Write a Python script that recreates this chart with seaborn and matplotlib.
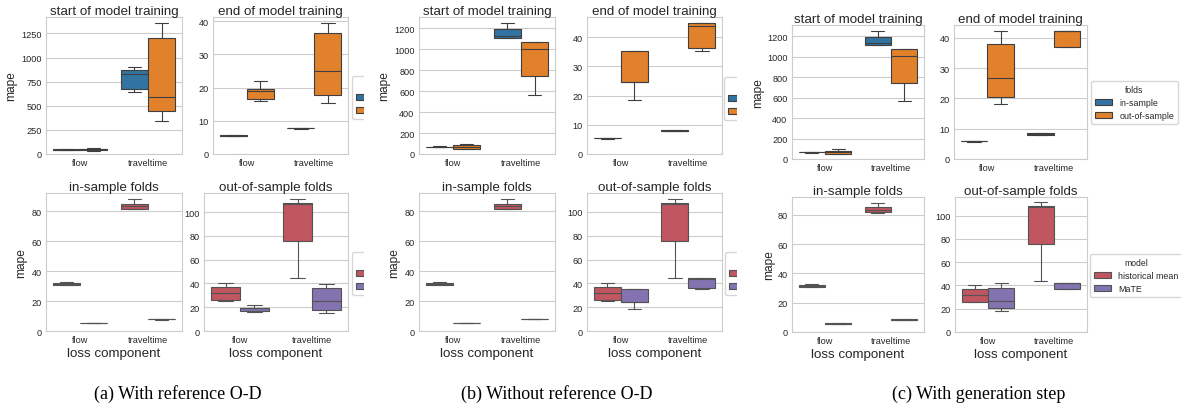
import matplotlib
matplotlib.use("Agg")
import matplotlib.pyplot as plt
from matplotlib.transforms import Bbox, TransformedBbox
import pandas as pd
import seaborn as sns

# ---------------------------------------------------------------------------
# MAPE per fold (five folds per loss component)
# ---------------------------------------------------------------------------
components = ["flow", "traveltime"]
fold_levels = ["in-sample", "out-of-sample"]
model_levels = ["historical mean", "MaTE"]

# historical-mean baseline (identical for every setting)
hist_in_flow = [30.6, 30.9, 31.4, 32.3, 32.8]
hist_in_travel = [81.3, 81.8, 83.6, 85.2, 88.1]
hist_out_flow = [25.5, 25.9, 32.0, 36.9, 40.3]
hist_out_travel = [44.2, 75.8, 107.0, 107.9, 111.3]

# (a) with reference O-D
a_start_in_flow = [44, 45, 46, 47, 48]
a_start_in_travel = [647, 675, 834, 866, 900]
a_start_out_flow = [33, 42, 50, 57, 66]
a_start_out_travel = [346, 450, 589, 1205, 1354]
a_end_in_flow = [5.4, 5.5, 5.5, 5.6, 5.6]
a_end_in_travel = [7.6, 7.7, 7.7, 7.8, 7.8]
a_end_out_flow = [15.8, 16.6, 19.0, 19.6, 22.0]
a_end_out_travel = [15.2, 17.6, 24.9, 36.5, 39.5]

# (b) without reference O-D
b_start_in_flow = [68, 69, 70, 71, 72]
b_start_in_travel = [1110, 1110, 1126, 1193, 1248]
b_start_out_flow = [48, 51, 70, 83, 96]
b_start_out_travel = [562, 743, 999, 1069, 1069]
b_end_in_flow = [5.3, 5.4, 5.4, 5.5, 5.5]
b_end_in_travel = [7.8, 7.8, 8.0, 8.3, 8.3]
b_end_out_flow = [18.4, 24.5, 24.6, 35.4, 35.4]
b_end_out_travel = [35.2, 36.2, 43.8, 44.9, 44.9]

# (c) with generation step
c_start_in_flow = [63, 64, 65, 66, 67]
c_start_in_travel = [1115, 1115, 1138, 1194, 1249]
c_start_out_flow = [49, 52, 68, 81, 98]
c_start_out_travel = [571, 744, 1004, 1076, 1076]
c_end_in_flow = [5.7, 5.8, 5.8, 5.9, 5.9]
c_end_in_travel = [8.0, 8.0, 8.4, 8.6, 8.6]
c_end_out_flow = [18.3, 20.5, 26.8, 37.8, 42.4]
c_end_out_travel = [37.0, 37.0, 42.3, 42.4, 42.4]

captions = ["(a) With reference O-D", "(b) Without reference O-D",
            "(c) With generation step"]
titles = ["start of model training", "end of model training",
          "in-sample folds", "out-of-sample folds"]

fold_palette = {"in-sample": "#3274a1", "out-of-sample": "#e1812c"}
model_palette = {"historical mean": "#bf5660", "MaTE": "#8373b0"}

# ---------------------------------------------------------------------------
sns.set_theme(style="whitegrid")
plt.rcParams["font.family"] = ["Liberation Sans", "DejaVu Sans"]
plt.rcParams["axes.linewidth"] = 0.8
plt.rcParams["grid.linewidth"] = 0.8

W, H = 1181, 410
fig = plt.figure(figsize=(W / 100, H / 100), dpi=100)


def px_axes(left, top, right, bottom):
    return fig.add_axes([left / W, 1 - bottom / H, (right - left) / W,
                         (bottom - top) / H])


def long_frame(groups, hue_name):
    rows = []
    for level, (fv, tv) in groups.items():
        for comp, vals in zip(components, (fv, tv)):
            for v in vals:
                rows.append({"loss component": comp, "mape": v,
                             hue_name: level})
    return pd.DataFrame(rows)


def boxes(ax, df, hue, order, palette, legend):
    sns.boxplot(data=df, x="loss component", y="mape", hue=hue,
                order=components, hue_order=order, palette=palette,
                saturation=1, linewidth=0.8, width=0.8, gap=0,
                fliersize=2, legend=legend, ax=ax)
    ax.set_ylim(bottom=0)
    ax.tick_params(labelsize=6.6, pad=3.2, length=0)


settings = [
    dict(start_in=(a_start_in_flow, a_start_in_travel),
         start_out=(a_start_out_flow, a_start_out_travel),
         end_in=(a_end_in_flow, a_end_in_travel),
         end_out=(a_end_out_flow, a_end_out_travel),
         tl=(46, 18, 182, 155), tr=(213, 18, 348, 155),
         bl=(46, 194, 182, 332), br=(204, 194, 348, 332),
         ylab_top=11.5, ylab_bot=21.5,
         leg_top=(352, 77), leg_bot=(352, 253), cut=364, cap_x=178),
    dict(start_in=(b_start_in_flow, b_start_in_travel),
         start_out=(b_start_out_flow, b_start_out_travel),
         end_in=(b_end_in_flow, b_end_in_travel),
         end_out=(b_end_out_flow, b_end_out_travel),
         tl=(419, 18, 555, 155), tr=(587, 18, 722, 155),
         bl=(419, 194, 555, 332), br=(587, 194, 722, 332),
         ylab_top=384.5, ylab_bot=394,
         leg_top=(724, 78), leg_bot=(725, 253), cut=737, cap_x=557),
    dict(start_in=(c_start_in_flow, c_start_in_travel),
         start_out=(c_start_out_flow, c_start_out_travel),
         end_in=(c_end_in_flow, c_end_in_travel),
         end_out=(c_end_out_flow, c_end_out_travel),
         tl=(792, 26, 924, 160), tr=(954, 26, 1087, 160),
         bl=(792, 198, 924, 333), br=(955, 198, 1087, 333),
         ylab_top=758.5, ylab_bot=769,
         leg_top=(1091, 82), leg_bot=(1090, 255), cut=None, cap_x=979),
]

for s, cap in zip(settings, captions):
    start_df = long_frame({"in-sample": s["start_in"],
                           "out-of-sample": s["start_out"]}, "folds")
    end_df = long_frame({"in-sample": s["end_in"],
                         "out-of-sample": s["end_out"]}, "folds")
    in_df = long_frame({"historical mean": (hist_in_flow, hist_in_travel),
                        "MaTE": s["end_in"]}, "model")
    out_df = long_frame({"historical mean": (hist_out_flow, hist_out_travel),
                         "MaTE": s["end_out"]}, "model")

    ax_tl = px_axes(*s["tl"])
    ax_tr = px_axes(*s["tr"])
    ax_bl = px_axes(*s["bl"])
    ax_br = px_axes(*s["br"])

    boxes(ax_tl, start_df, "folds", fold_levels, fold_palette, False)
    boxes(ax_tr, end_df, "folds", fold_levels, fold_palette, True)
    boxes(ax_bl, in_df, "model", model_levels, model_palette, False)
    boxes(ax_br, out_df, "model", model_levels, model_palette, True)

    for ax, title in zip((ax_tl, ax_tr, ax_bl, ax_br), titles):
        ax.set_title(title, fontsize=9.6, pad=2.5)
    for ax in (ax_tl, ax_tr):
        ax.set_xlabel("")
    for ax in (ax_bl, ax_br):
        ax.set_xlabel("loss component", fontsize=9.6, labelpad=1.5)
    for ax, key, box in ((ax_tl, "ylab_top", "tl"), (ax_bl, "ylab_bot", "bl")):
        ax.set_ylabel("mape", fontsize=8.6, va="center")
        left, _, right, _ = s[box]
        ax.yaxis.set_label_coords((s[key] - left) / (right - left), 0.5)
    for ax in (ax_tr, ax_br):
        ax.set_ylabel("")

    for ax, key in ((ax_tr, "leg_top"), (ax_br, "leg_bot")):
        lx, ly = s[key]
        sns.move_legend(ax, "upper left", bbox_to_anchor=(lx / W, 1 - ly / H),
                        bbox_transform=fig.transFigure, fontsize=6.4,
                        title_fontsize=6.2, frameon=True, borderaxespad=0)
        if s["cut"] is not None:
            # this panel ends right after the frame edge and colour keys
            # of its legend; the legend texts fall past the cut
            leg = ax.get_legend()
            clip = TransformedBbox(Bbox.from_extents(0, 0, s["cut"] / W, 1),
                                   fig.transFigure)
            for art in leg.findobj():
                art.set_clip_on(True)
                art.set_clip_box(clip)
            for txt in list(leg.get_texts()) + [leg.get_title()]:
                txt.set_visible(False)

    fig.text(s["cap_x"] / W, 1 - 394 / H, cap, ha="center", va="center",
             fontsize=13, family=["Liberation Serif", "DejaVu Serif"],
             color="black")

fig.savefig("out.png", dpi=100)
